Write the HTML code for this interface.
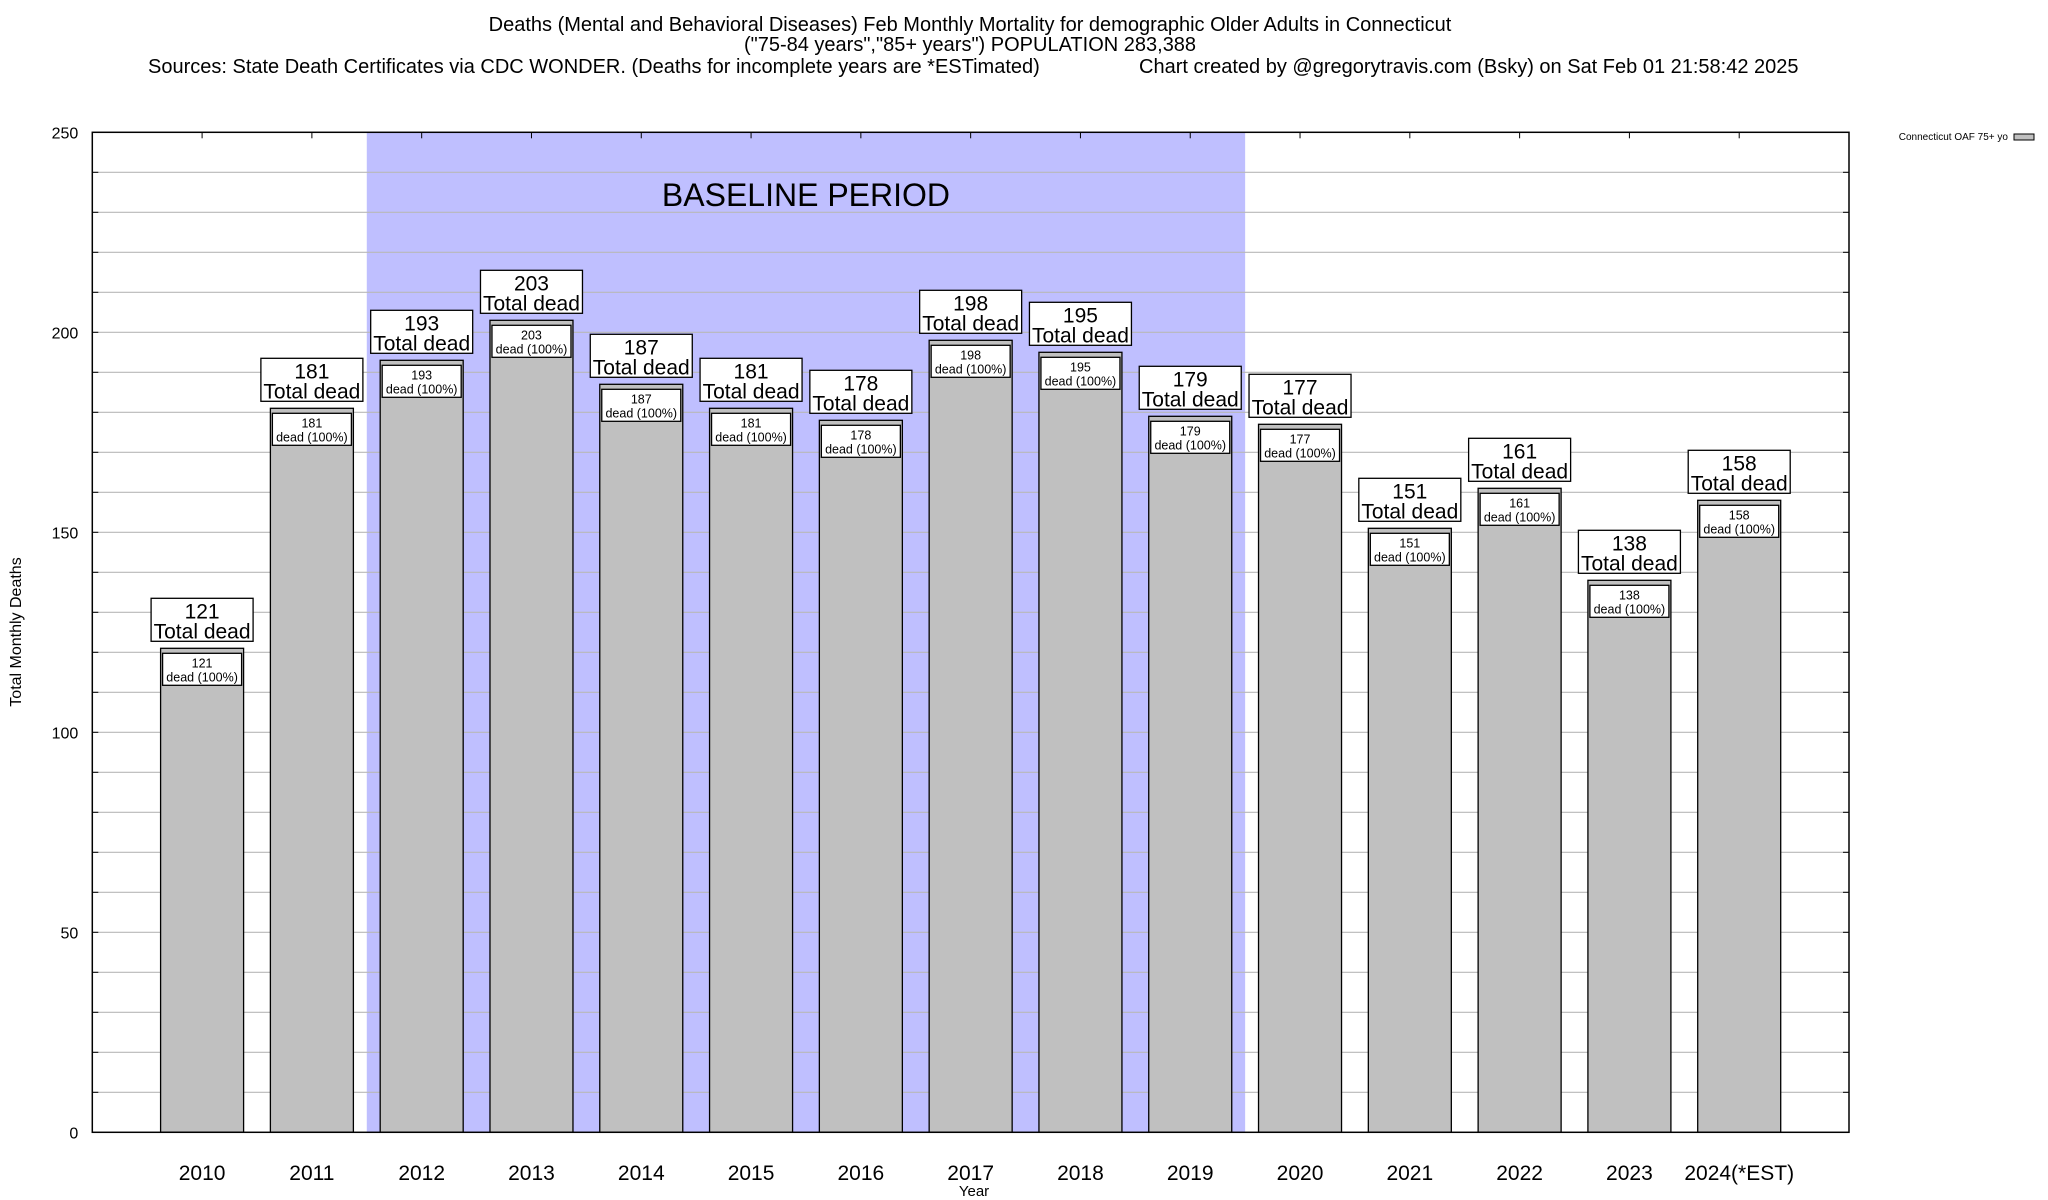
<!DOCTYPE html>
<html><head><meta charset="utf-8">
<style>
html,body{margin:0;padding:0;background:#fff;}
svg{display:block;font-family:"Liberation Sans",Arial,sans-serif;}
</style></head>
<body>
<svg id="chart" width="2048" height="1200" viewBox="0 0 2048 1200" xmlns="http://www.w3.org/2000/svg">
  <text x="970" y="31" font-size="20" text-anchor="middle">Deaths (Mental and Behavioral Diseases) Feb Monthly Mortality for demographic Older Adults in Connecticut</text>
  <text x="970" y="51" font-size="20" text-anchor="middle">("75-84 years","85+ years") POPULATION 283,388</text>
  <text x="148" y="73" font-size="20">Sources: State Death Certificates via CDC WONDER. (Deaths for incomplete years are *ESTimated)</text>
  <text x="1139" y="73" font-size="20">Chart created by @gregorytravis.com (Bsky) on Sat Feb 01 21:58:42 2025</text>
  <g id="plot"></g>
  <text x="2008" y="140" font-size="10" text-anchor="end">Connecticut OAF 75+ yo</text>
  <rect x="2014" y="134" width="20" height="6" fill="#c0c0c0" stroke="#000" stroke-width="1"/>
  <text x="0" y="0" font-size="16" text-anchor="middle" transform="translate(21,632) rotate(-90)">Total Monthly Deaths</text>
  <text x="974" y="1196" font-size="15" text-anchor="middle">Year</text>
</svg>
<script>
const categories = ["2010","2011","2012","2013","2014","2015","2016","2017","2018","2019","2020","2021","2022","2023","2024(*EST)"];
const values = [121,181,193,203,187,181,178,198,195,179,177,151,161,138,158];
const yTicks = [0,50,100,150,200,250];
const baselineStart = 1.5;
const baselineEnd = 9.5;

const L=92.3, R=1849, T=132.3, B=1132.3, YMAX=250;
const slot=(R-L)/16;
const xs = i => L + (i+1)*slot;
const ys = v => B - (v/YMAX)*(B-T);
const NS="http://www.w3.org/2000/svg";
const g=document.getElementById('plot');
function mk(tag, attrs, parent){const e=document.createElementNS(NS,tag);for(const k in attrs)e.setAttribute(k,attrs[k]);(parent||g).appendChild(e);return e;}

let sh=mk('rect',{x:xs(baselineStart),y:T,width:xs(baselineEnd)-xs(baselineStart),height:B-T,fill:'#bfbfff'});


let st=mk('text',{x:(xs(baselineStart)+xs(baselineEnd))/2,y:206,'font-size':32,'text-anchor':'middle'});
st.textContent='BASELINE PERIOD';



for(let v=10;v<YMAX;v+=10){
  let gl=mk('line',{x1:L,x2:R,y1:ys(v),y2:ys(v),stroke:'#b8b8b8','stroke-width':1.2});
  
  
  mk('line',{x1:L,x2:L+6,y1:ys(v),y2:ys(v),stroke:'#000','stroke-width':1});
  mk('line',{x1:R-6,x2:R,y1:ys(v),y2:ys(v),stroke:'#000','stroke-width':1});
}
yTicks.forEach(v=>{
  let t=mk('text',{x:L-14,y:ys(v)+6,'font-size':16,'text-anchor':'end'});
  t.textContent=v;
  
  
});

const bw=83;
categories.forEach((c,i)=>{
  const cx=xs(i), v=values[i], top=ys(v);
  let b=mk('rect',{x:cx-bw/2,y:top,width:bw,height:B-top,fill:'#c0c0c0',stroke:'#000','stroke-width':1.3});
  
  
  let ib=mk('rect',{x:cx-bw/2+2,y:top+5,width:bw-4,height:32,fill:'#fff',stroke:'#000','stroke-width':1.3});
  
  
  let t1=mk('text',{x:cx,y:top+19,'font-size':12.5,'text-anchor':'middle'});
  t1.textContent=v;
  
  
  let t2=mk('text',{x:cx,y:top+33,'font-size':12.5,'text-anchor':'middle'});
  t2.textContent='dead (100%)';
  
  
  let ob=mk('rect',{x:cx-51,y:top-50,width:102,height:43,fill:'#fff',stroke:'#000','stroke-width':1.3});
  
  
  let o1=mk('text',{x:cx,y:top-30,'font-size':21,'text-anchor':'middle'});
  o1.textContent=v;
  
  
  let o2=mk('text',{x:cx,y:top-10,'font-size':21,'text-anchor':'middle'});
  o2.textContent='Total dead';
  
  
  mk('line',{x1:cx,x2:cx,y1:T,y2:T+6,stroke:'#000','stroke-width':1});
  let xl=mk('text',{x:cx,y:1180,'font-size':21,'text-anchor':'middle'});
  xl.textContent=c;
  
  
});

let fr=mk('rect',{x:L,y:T,width:R-L,height:B-T,fill:'none',stroke:'#000','stroke-width':1.5});


</script>
</body></html>
